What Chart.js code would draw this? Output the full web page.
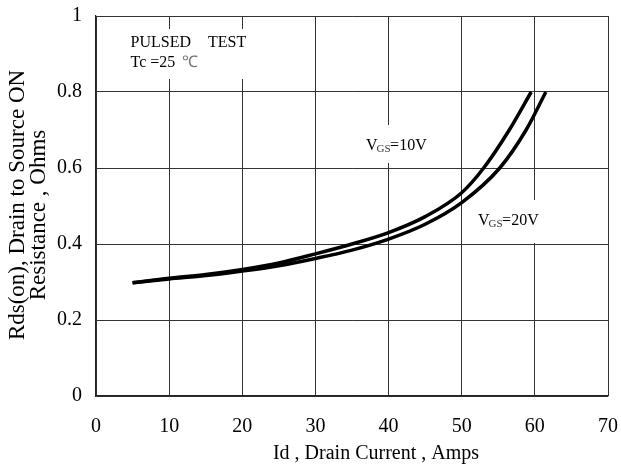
<!DOCTYPE html>
<html>
<head>
<meta charset="utf-8">
<script src="https://cdn.jsdelivr.net/npm/chart.js@4"></script>
<style>
  html, body { margin: 0; padding: 0; background: #fff; }
  #wrap { width: 621px; height: 466px; }
</style>
</head>
<body>
<div id="wrap"><canvas id="c" width="621" height="466"></canvas></div>
<script>
// ---- data ----
const xTicks = [0, 10, 20, 30, 40, 50, 60, 70];
const yTicks = [0, 0.2, 0.4, 0.6, 0.8, 1];
const idVgs10 = [5, 10, 15, 20, 25, 30, 35, 40, 45, 50, 53, 56.5, 59.5];
const rdsVgs10 = [0.298, 0.31, 0.32, 0.333, 0.35, 0.374, 0.4, 0.43, 0.472, 0.535, 0.6, 0.7, 0.8];
const idVgs20 = [5, 10, 15, 20, 25, 30, 35, 40, 45, 50, 55.2, 58.8, 61.5];
const rdsVgs20 = [0.298, 0.308, 0.317, 0.329, 0.343, 0.362, 0.384, 0.413, 0.452, 0.509, 0.6, 0.7, 0.8];
const xTitle = "Id , Drain Current , Amps";
const yTitle1 = "Rds(on), Drain to Source ON";
const yTitle2 = "Resistance , Ohms";

const FONT = "'Liberation Serif', 'Times New Roman', serif";

function pts(xs, ys) { return xs.map((x, i) => ({ x: x, y: ys[i] })); }

const textPlugin = {
  id: 'texts',
  beforeDatasetsDraw(chart) {
    const ctx = chart.ctx;
    ctx.save();
    ctx.fillStyle = '#fff';
    // white boxes behind annotation texts (interrupt grid)
    ctx.fillRect(124, 29, 128, 50);
    ctx.fillRect(360, 125, 74, 38);
    ctx.fillRect(472, 200, 74, 43);
    ctx.fillStyle = '#000';
    ctx.textBaseline = 'alphabetic';
    ctx.textAlign = 'left';
    ctx.font = '16px ' + FONT;
    ctx.fillText('PULSED', 130.5, 47);
    ctx.fillText('TEST', 208, 47);
    ctx.fillText('Tc =25', 130.5, 67);
    ctx.fillStyle = '#777';
    ctx.fillText('\u2103', 182, 67);
    // VGS labels
    function vgs(x, y, rest) {
      ctx.fillStyle = '#000';
      ctx.font = '16px ' + FONT;
      ctx.fillText('V', x, y);
      let w = ctx.measureText('V').width;
      ctx.fillStyle = '#333';
      ctx.font = '11px ' + FONT;
      ctx.fillText('GS', x + w - 1, y + 2);
      let w2 = ctx.measureText('GS').width;
      ctx.fillStyle = '#000';
      ctx.font = '16px ' + FONT;
      ctx.fillText(rest, x + w + w2 - 1.5, y);
    }
    vgs(366, 150, '=10V');
    vgs(478, 225, '=20V');
    ctx.restore();
  },
  afterDraw(chart) {
    const ctx = chart.ctx;
    ctx.save();
    ctx.fillStyle = '#000';
    ctx.textAlign = 'center';
    ctx.textBaseline = 'alphabetic';
    ctx.font = '20px ' + FONT;
    ctx.fillText(xTitle, 376, 459);
    ctx.font = '23px ' + FONT;
    ctx.translate(24, 205);
    ctx.rotate(-Math.PI / 2);
    ctx.fillText(yTitle1, 0, 0);
    ctx.restore();
    ctx.save();
    ctx.fillStyle = '#000';
    ctx.textAlign = 'center';
    ctx.textBaseline = 'alphabetic';
    ctx.font = '23px ' + FONT;
    ctx.translate(45, 215);
    ctx.rotate(-Math.PI / 2);
    ctx.fillText(yTitle2, 0, 0);
    ctx.restore();
  }
};

new Chart(document.getElementById('c'), {
  type: 'scatter',
  data: {
    datasets: [
      { label: 'VGS=10V', data: pts(idVgs10, rdsVgs10), showLine: true, borderColor: '#000', borderWidth: 3.5, pointRadius: 0, cubicInterpolationMode: 'monotone', fill: false },
      { label: 'VGS=20V', data: pts(idVgs20, rdsVgs20), showLine: true, borderColor: '#000', borderWidth: 3.5, pointRadius: 0, cubicInterpolationMode: 'monotone', fill: false }
    ]
  },
  options: {
    responsive: false,
    animation: false,
    devicePixelRatio: 1,
    layout: { padding: { top: 16, right: 13, left: 0, bottom: 0 } },
    plugins: { legend: { display: false }, tooltip: { enabled: false }, title: { display: false } },
    scales: {
      x: {
        type: 'linear', min: 0, max: 70,
        afterBuildTicks: (s) => { s.ticks = xTicks.map(v => ({ value: v })); },
        afterFit: (s) => { s.height = 70; s.paddingLeft = 0; s.paddingRight = 0; },
        ticks: { color: '#000', font: { family: FONT, size: 20 }, padding: 19, maxRotation: 0 },
        grid: { color: '#333', lineWidth: 1, drawTicks: false },
        border: { color: '#222', width: 1.2 }
      },
      y: {
        type: 'linear', min: 0, max: 1,
        afterBuildTicks: (s) => { s.ticks = yTicks.map(v => ({ value: v })); },
        afterFit: (s) => { s.width = 96; s.paddingTop = 0; s.paddingBottom = 0; },
        ticks: { color: '#000', font: { family: FONT, size: 20 }, padding: 14,
                 callback: (v) => String(Number(Number(v).toFixed(1))) },
        grid: { color: '#333', lineWidth: 1, drawTicks: false },
        border: { color: '#222', width: 1.2 }
      }
    }
  },
  plugins: [textPlugin]
});
</script>
</body>
</html>
